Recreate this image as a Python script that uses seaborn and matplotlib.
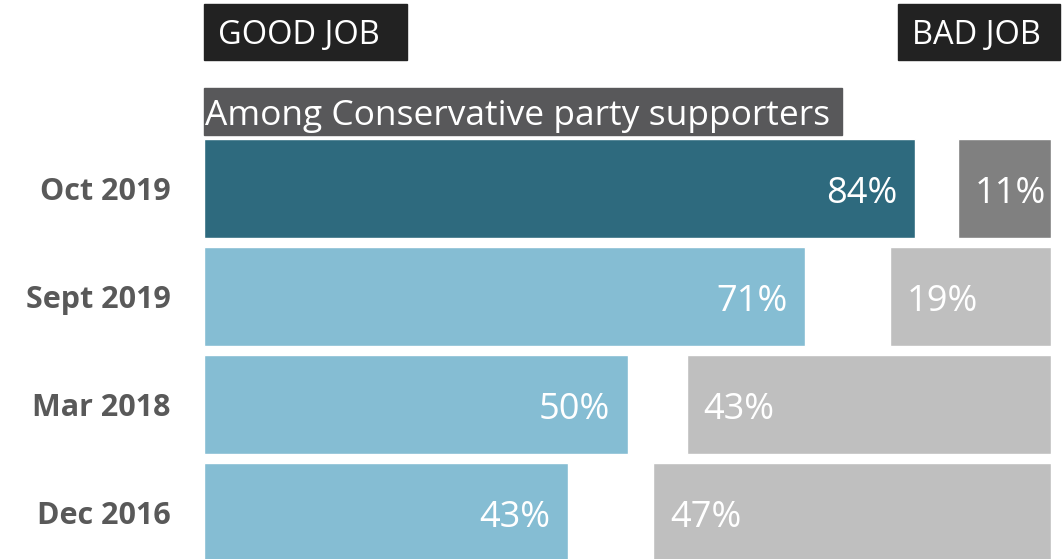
import matplotlib
matplotlib.use("Agg")
import matplotlib.pyplot as plt
from matplotlib.patches import Rectangle
import seaborn as sns
import pandas as pd

periods = ["Oct 2019", "Sept 2019", "Mar 2018", "Dec 2016"]
good_job = [84, 71, 50, 43]
bad_job = [11, 19, 43, 47]
good_colors = ["#2E6A7E", "#85BDD3", "#85BDD3", "#85BDD3"]
bad_colors = ["#808080", "#BFBFBF", "#BFBFBF", "#BFBFBF"]

sns.set_style("white")
plt.rcParams["font.family"] = ["Open Sans", "DejaVu Sans"]

df = pd.DataFrame({"period": periods, "good": good_job, "bad": bad_job})

W, H = 1063, 559
fig = plt.figure(figsize=(W / 100, H / 100), dpi=100)

# axes spans the 0-100% width; rows are 108 px apart
left, right = 204, 1051
top, bottom = 134.5, 134.5 + 4 * 108
ax = fig.add_axes([left / W, 1 - bottom / H, (right - left) / W, (bottom - top) / H])

sns.barplot(data=df, x="good", y="period", hue="period", palette=good_colors,
            legend=False, width=0.91, saturation=1, ax=ax)
ax.set_xlim(0, 100)

# bad job bars grow leftward from the right edge
ax2 = ax.twiny()
sns.barplot(data=df, x="bad", y="period", hue="period", palette=bad_colors,
            legend=False, width=0.91, saturation=1, ax=ax2)
ax2.set_xlim(100, 0)
ax.set_ylim(3.5, -0.5)

for a in (ax, ax2):
    sns.despine(ax=a, left=True, bottom=True, top=True, right=True)
    a.set_xlabel("")
    a.set_ylabel("")
    a.set_xticks([])
ax2.tick_params(axis="y", left=False, labelleft=False, right=False, labelright=False)

ax.set_yticks(range(len(periods)), periods)
ax.tick_params(axis="y", length=0, pad=24, labelleft=True)
for lab in ax.get_yticklabels():
    lab.set_fontsize(22)
    lab.set_fontweight("bold")
    lab.set_color("#595959")

for i, (g, b) in enumerate(zip(good_job, bad_job)):
    ax.text(g - 2.1, i + 0.05, f"{g}%", ha="right", va="center",
            color="white", fontsize=26)
    ax2.text(b - 2.0, i + 0.05, f"{b}%", ha="left", va="center",
             color="white", fontsize=26)

# header boxes
def box(x0, y0, x1, y1, color):
    fig.patches.append(Rectangle((x0 / W, 1 - y1 / H), (x1 - x0) / W, (y1 - y0) / H,
                                 transform=fig.transFigure, color=color, zorder=0))

box(204, 4, 407, 60, "#222222")
box(898, 4, 1060, 60, "#222222")
box(204, 88, 842, 135, "#58585A")
fig.text(218 / W, 1 - 36 / H, "GOOD JOB", color="white", fontsize=23.5, va="center", ha="left")
fig.text(912 / W, 1 - 36 / H, "BAD JOB", color="white", fontsize=23.5, va="center", ha="left")
fig.text(205 / W, 1 - 116 / H, "Among Conservative party supporters", color="white",
         fontsize=25.5, va="center", ha="left")

fig.savefig("out.png", dpi=100)
